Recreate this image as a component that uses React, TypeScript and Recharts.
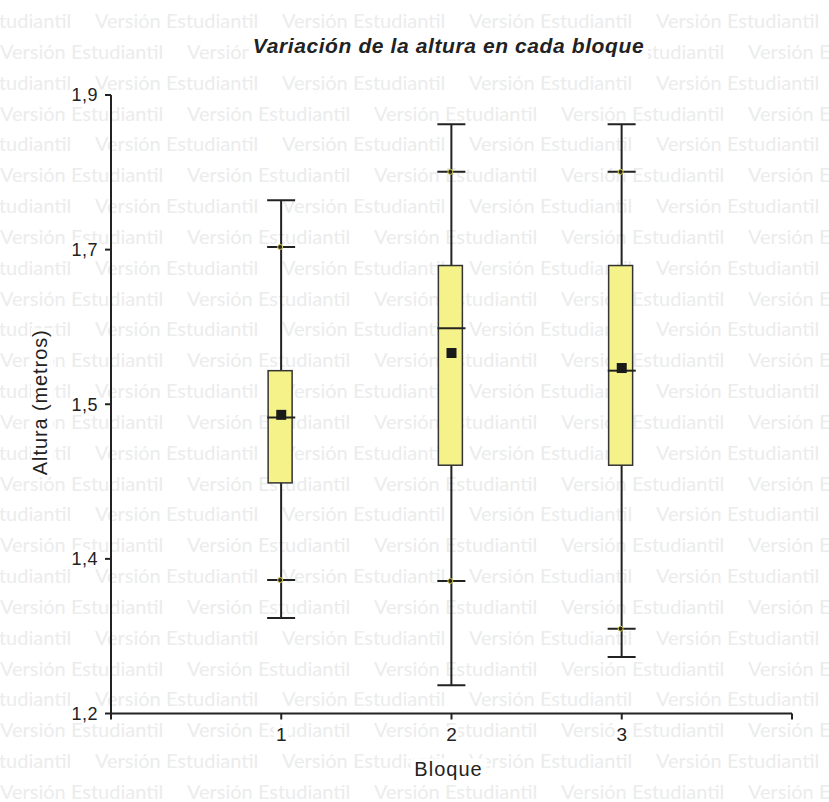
import React from "react";
import { ComposedChart, Bar, Scatter, XAxis, YAxis, Label } from "recharts";

// resumen por bloque (altura en metros)
const BLOQUES = [1, 2, 3];
const MINIMO = [1.308, 1.232, 1.264];
const P05 = [1.351, 1.35, 1.296];
const Q1 = [1.461, 1.481, 1.481];
const MEDIANA = [1.535, 1.636, 1.588];
const MEDIA = [1.538, 1.608, 1.591];
const Q3 = [1.588, 1.707, 1.707];
const P95 = [1.728, 1.813, 1.813];
const MAXIMO = [1.781, 1.867, 1.867];

const X_TICKS = [0, 1, 2, 3, 4];
const X_TICK_LABELS = ["", "1", "2", "3", ""];
const Y_TICKS = [1.2, 1.375, 1.55, 1.725, 1.9];
const Y_TICK_LABELS = ["1,2", "1,4", "1,5", "1,7", "1,9"];

const TITULO = "Variación de la altura en cada bloque";
const X_LABEL = "Bloque";
const Y_LABEL = "Altura (metros)";
const WATERMARK = "Versión Estudiantil";

const data = BLOQUES.map((b, i) => ({
  x: b,
  rango: [MINIMO[i], MAXIMO[i]],
  percentiles: [P05[i], P95[i]],
  caja: [Q1[i], Q3[i]],
  mediana: MEDIANA[i],
  media: MEDIA[i],
}));

const W = 829;
const H = 802;
const INK = "#222";
const FONT = '"Liberation Sans", Arial, sans-serif';

function Whisker(props: any) {
  const { x, y, width, height } = props;
  const cx = x + width / 2;
  return (
    <g>
      <line x1={cx} x2={cx} y1={y} y2={y + height} stroke={INK} strokeWidth={2} />
      <line x1={x} x2={x + width} y1={y} y2={y} stroke={INK} strokeWidth={2} />
      <line x1={x} x2={x + width} y1={y + height} y2={y + height} stroke={INK} strokeWidth={2} />
    </g>
  );
}

function PercentileCaps(props: any) {
  const { x, y, width, height } = props;
  const cx = x + width / 2 - 1;
  return (
    <g>
      <line x1={x} x2={x + width} y1={y} y2={y} stroke={INK} strokeWidth={2} />
      <line x1={x} x2={x + width} y1={y + height} y2={y + height} stroke={INK} strokeWidth={2} />
      <circle cx={cx} cy={y} r={2.5} fill={INK} stroke="#d8cf50" strokeWidth={1} />
      <circle cx={cx} cy={y + height} r={2.5} fill={INK} stroke="#d8cf50" strokeWidth={1} />
    </g>
  );
}

function BoxShape(props: any) {
  const { x, y, width, height } = props;
  return (
    <rect x={x - 1} y={y} width={width} height={height} fill="#f6f28a" stroke="#333" strokeWidth={1.5} />
  );
}

function MedianMark(props: any) {
  const { cx, cy } = props;
  return <line x1={cx - 14} x2={cx + 14} y1={cy} y2={cy} stroke={INK} strokeWidth={2} />;
}

function MeanMark(props: any) {
  const { cx, cy } = props;
  return <rect x={cx - 5} y={cy - 5} width={10} height={10} fill="#1a1a1a" />;
}

function YTick(props: any) {
  const { x, y, payload } = props;
  const label = Y_TICK_LABELS[Y_TICKS.indexOf(payload.value)];
  return (
    <g>
      <rect x={x - 28} y={y - 9} width={29} height={18} fill="#fff" />
      <text x={x} y={y} dy="0.36em" textAnchor="end" fill={INK} fontSize={18} fontFamily={FONT} letterSpacing={0.5}>
        {label}
      </text>
    </g>
  );
}

function XTick(props: any) {
  const { x, y, payload } = props;
  const label = X_TICK_LABELS[X_TICKS.indexOf(payload.value)];
  if (!label) return <g />;
  return (
    <g>
      <rect x={x - 7} y={y - 1} width={14} height={18} fill="#fff" />
      <text x={x} y={y} dy="0.71em" textAnchor="middle" fill={INK} fontSize={19} fontFamily={FONT}>
        {label}
      </text>
    </g>
  );
}

function XTitle(props: any) {
  const { viewBox } = props;
  const cx = viewBox.x + viewBox.width / 2 - 3;
  const by = viewBox.y + viewBox.height;
  return (
    <g>
      <rect x={cx - 38} y={by - 17} width={76} height={22} fill="#fff" />
      <text x={cx} y={by} textAnchor="middle" fill={INK} fontSize={20} fontFamily={FONT} letterSpacing={1}>
        {X_LABEL}
      </text>
    </g>
  );
}

function YTitle(props: any) {
  const { viewBox } = props;
  const tx = viewBox.x + 7;
  const ty = viewBox.y + viewBox.height / 2 - 2;
  return (
    <g transform={`rotate(-90 ${tx} ${ty})`}>
      <rect x={tx - 74} y={ty - 16} width={148} height={22} fill="#fff" />
      <text x={tx} y={ty} textAnchor="middle" fill={INK} fontSize={20} fontFamily={FONT} letterSpacing={0.9}>
        {Y_LABEL}
      </text>
    </g>
  );
}

function Watermark() {
  const rows = Array.from({ length: 26 }, (_, i) => i);
  const cols = Array.from({ length: 6 }, (_, k) => k);
  return (
    <svg width={W} height={H} style={{ position: "absolute", left: 0, top: 0 }}>
      {rows.map((i) => {
        const base = 28 + i * 30.84;
        const start = i % 2 === 0 ? -92 : 0;
        return cols.map((k) => (
          <text
            key={`${i}-${k}`}
            x={start + k * 187}
            y={base}
            fill="#ebecec"
            fontSize={20}
            fontFamily="Lato, 'Noto Sans', sans-serif"
          >
            {WATERMARK}
          </text>
        ));
      })}
    </svg>
  );
}

export default function App() {
  return (
    <div style={{ position: "absolute", left: 0, top: 0, width: W, height: H, background: "#fff", overflow: "hidden" }}>
      <Watermark />
      <div
        style={{
          position: "absolute",
          left: 249,
          top: 33,
          width: 399,
          height: 26,
          lineHeight: "26px",
          background: "#fff",
          textAlign: "center",
          fontFamily: FONT,
          fontWeight: "bold",
          fontStyle: "italic",
          fontSize: 21,
          letterSpacing: 0.6,
          color: INK,
          whiteSpace: "nowrap",
        }}
      >
        {TITULO}
      </div>
      <div style={{ position: "absolute", left: 0, top: 0 }}>
        <ComposedChart width={W} height={H} data={data} margin={{ top: 95, right: 37, bottom: 26.5, left: 40 }}>
          <XAxis
            type="number"
            dataKey="x"
            domain={[0, 4]}
            ticks={X_TICKS}
            interval={0}
            height={62}
            tickSize={6}
            tickMargin={8}
            tick={<XTick />}
            axisLine={{ stroke: INK, strokeWidth: 2 }}
            tickLine={{ stroke: INK, strokeWidth: 2 }}
          >
            <Label content={<XTitle />} />
          </XAxis>
          <XAxis xAxisId="w" type="number" dataKey="x" domain={[0, 4]} hide />
          <XAxis xAxisId="c" type="number" dataKey="x" domain={[0, 4]} hide />
          <XAxis xAxisId="p" type="number" dataKey="x" domain={[0, 4]} hide />
          <YAxis
            type="number"
            domain={[1.2, 1.9]}
            ticks={Y_TICKS}
            interval={0}
            allowDataOverflow
            width={71}
            tickSize={6}
            tickMargin={7}
            tick={<YTick />}
            axisLine={{ stroke: INK, strokeWidth: 2 }}
            tickLine={{ stroke: INK, strokeWidth: 2 }}
          >
            <Label content={<YTitle />} />
          </YAxis>
          <Bar xAxisId="w" dataKey="rango" barSize={28} shape={<Whisker />} isAnimationActive={false} />
          <Bar xAxisId="c" dataKey="caja" barSize={24} shape={<BoxShape />} isAnimationActive={false} />
          <Bar xAxisId="p" dataKey="percentiles" barSize={28} shape={<PercentileCaps />} isAnimationActive={false} />
          <Scatter dataKey="mediana" shape={<MedianMark />} isAnimationActive={false} />
          <Scatter dataKey="media" shape={<MeanMark />} isAnimationActive={false} />
        </ComposedChart>
      </div>
    </div>
  );
}
